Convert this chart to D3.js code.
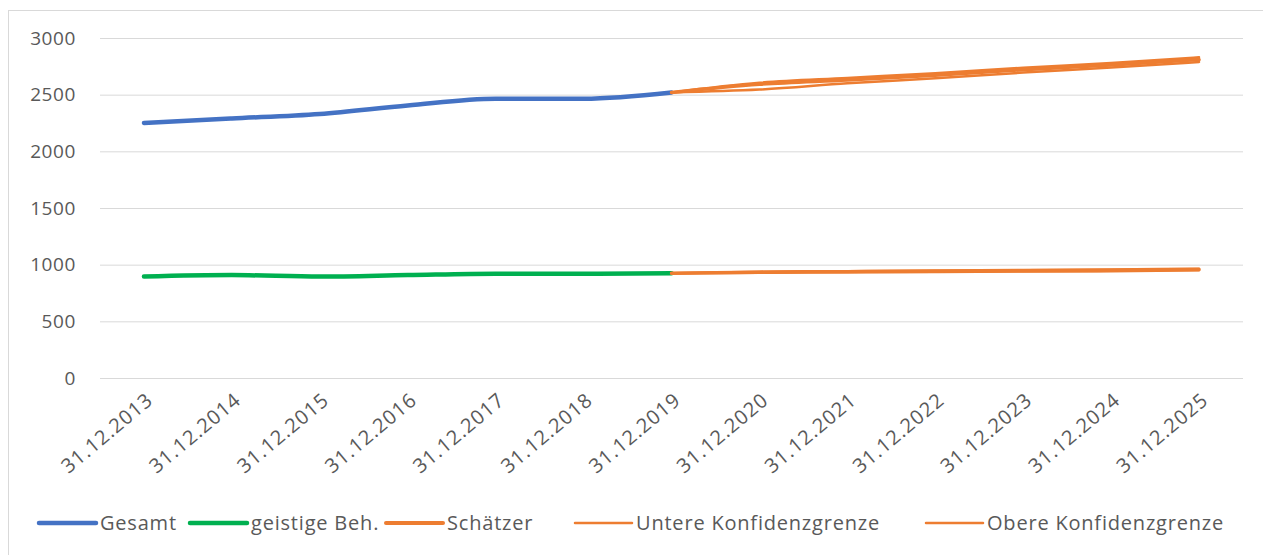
<!DOCTYPE html>
<html>
<head>
<meta charset="utf-8">
<script src="https://cdn.jsdelivr.net/npm/d3@7"></script>
<style>
  body { margin: 0; background: #fff; }
  text { font-family: "Open Sans", Lato, sans-serif; fill: #595959; }
</style>
</head>
<body>
<svg></svg>
<script>
// data
var years = ["31.12.2013", "31.12.2014", "31.12.2015", "31.12.2016", "31.12.2017", "31.12.2018", "31.12.2019",
             "31.12.2020", "31.12.2021", "31.12.2022", "31.12.2023", "31.12.2024", "31.12.2025"];
var yTicks = [0, 500, 1000, 1500, 2000, 2500, 3000];

// observed 2013-2019
var gesamt = [2250, 2290, 2330, 2405, 2465, 2465, 2520];
var geistig = [895, 908, 895, 908, 920, 920, 925];

// forecast 2019-2025
var schaetzerGes = [2520, 2592, 2630, 2672, 2720, 2762, 2810];
var untereGes = [2520, 2545, 2600, 2645, 2695, 2740, 2788];
var obereGes = [2520, 2605, 2648, 2690, 2738, 2780, 2830];
var schaetzerBeh = [925, 934, 938, 943, 947, 950, 958];
var untereBeh = [925, 928, 932, 936, 940, 943, 950];
var obereBeh = [925, 938, 943, 948, 953, 957, 965];

var legendLabels = ["Gesamt", "geistige Beh.", "Schätzer", "Untere Konfidenzgrenze", "Obere Konfidenzgrenze"];
var legendX = [39, 190, 386, 575, 926];

var blue = "#4472C4", green = "#00B050", orange = "#ED7D31";

// set the dimensions and margins of the graph
var margin = {top: 38, right: 20, bottom: 177, left: 100},
    width = 1263 - margin.left - margin.right,
    height = 555 - margin.top - margin.bottom;

var root = d3.select("svg")
    .attr("width", 1263)
    .attr("height", 555);

// chart border
root.append("rect")
    .attr("x", 8.5).attr("y", 10.5)
    .attr("width", 1300).attr("height", 600)
    .attr("fill", "none")
    .attr("stroke", "#d9d9d9");

var svg = root.append("g")
    .attr("transform", "translate(" + margin.left + "," + margin.top + ")");

var x = d3.scalePoint()
    .domain(years)
    .range([0, width])
    .padding(0.5);

var y = d3.scaleLinear()
    .domain([0, 3000])
    .range([height, 0]);

// gridlines + y labels
var yAxis = svg.append("g")
    .call(d3.axisLeft(y).tickValues(yTicks).tickFormat(d3.format("d")).tickSize(-width).tickPadding(24));
yAxis.select(".domain").remove();
yAxis.selectAll(".tick line").attr("stroke", "#d9d9d9");
yAxis.selectAll(".tick text")
    .style("font-size", "19px")
    .style("letter-spacing", "0.6px")
    .attr("fill", "#595959");

// x labels
var xAxis = svg.append("g")
    .attr("transform", "translate(0," + height + ")")
    .call(d3.axisBottom(x).tickSize(0));
xAxis.select(".domain").remove();
xAxis.selectAll(".tick text")
    .style("font-size", "20px")
    .style("letter-spacing", "1px")
    .attr("fill", "#595959")
    .attr("text-anchor", "end")
    .attr("dy", 0)
    .attr("transform", "translate(8,22) rotate(-40)");

var past = years.slice(0, 7);
var future = years.slice(6);

function drawLine(values, labels, color, w) {
  var l = d3.line()
      .x(function(d, i) { return x(labels[i]); })
      .y(function(d) { return y(d); })
      .curve(d3.curveMonotoneX);
  svg.append("path")
      .datum(values)
      .attr("fill", "none")
      .attr("stroke", color)
      .attr("stroke-width", w)
      .attr("stroke-linecap", "round")
      .attr("stroke-linejoin", "round")
      .attr("d", l);
}

drawLine(gesamt, past, blue, 4.5);
drawLine(geistig, past, green, 4.5);
drawLine(untereGes, future, orange, 2.5);
drawLine(obereGes, future, orange, 2.5);
drawLine(schaetzerGes, future, orange, 3.5);
drawLine(untereBeh, future, orange, 2.5);
drawLine(obereBeh, future, orange, 2.5);
drawLine(schaetzerBeh, future, orange, 3.5);

// legend
var legendColors = [blue, green, orange, orange, orange];
var legendWidths = [4.5, 4.5, 4, 2.5, 2.5];
var legend = root.append("g").attr("transform", "translate(0,523)");
legendLabels.forEach(function(lab, i) {
  var g = legend.append("g").attr("transform", "translate(" + legendX[i] + ",0)");
  g.append("line")
      .attr("x1", 0).attr("x2", 57)
      .attr("stroke", legendColors[i])
      .attr("stroke-width", legendWidths[i])
      .attr("stroke-linecap", "round");
  g.append("text")
      .attr("x", 61)
      .attr("dy", "0.35em")
      .style("font-size", "20px")
      .style("letter-spacing", "0.8px")
      .text(lab);
});
</script>
</body>
</html>
